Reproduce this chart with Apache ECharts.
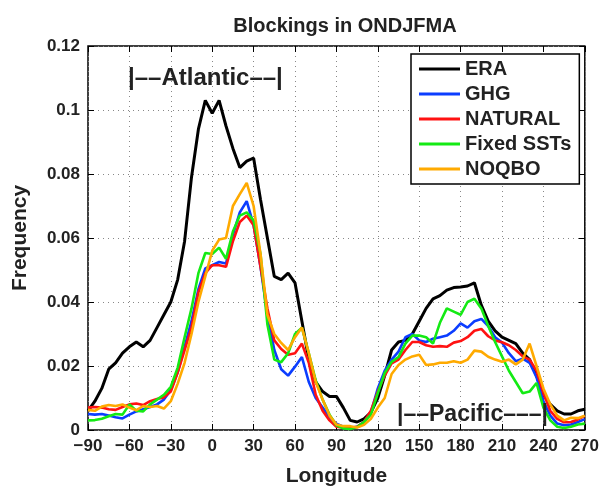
<!doctype html>
<html>
<head>
<meta charset="UTF-8">
<title>Blockings in ONDJFMA</title>
<script src="https://cdn.jsdelivr.net/npm/echarts@6/dist/echarts.min.js"></script>
<style>
html, body { margin: 0; padding: 0; background: #fff; }
#chart { width: 602px; height: 492px; }
</style>
</head>
<body>
<div id="chart"></div>
<script type="text/javascript">
// longitude, every 5 degrees from -90 to 270
var lons = [];
for (var l = -90; l <= 270; l += 5) lons.push(l);

var seriesNames = ['ERA', 'GHG', 'NATURAL', 'Fixed SSTs', 'NOQBO'];
var seriesColors = ['#000000', '#0b3dff', '#ff1212', '#14ea14', '#ffaa00'];

var era = [0.006, 0.009, 0.013, 0.019, 0.021, 0.024, 0.026, 0.0275, 0.026, 0.028,
  0.032, 0.036, 0.040, 0.047, 0.059, 0.079, 0.094, 0.103, 0.099, 0.103,
  0.095, 0.088, 0.082, 0.084, 0.085, 0.072, 0.060, 0.048, 0.047, 0.049,
  0.046, 0.034, 0.022, 0.015, 0.012, 0.0105, 0.0105, 0.007, 0.003, 0.0025,
  0.0035, 0.0055, 0.010, 0.017, 0.025, 0.0275, 0.028, 0.030, 0.034, 0.038,
  0.041, 0.042, 0.0437, 0.0445, 0.0447, 0.045, 0.046, 0.039, 0.034, 0.031,
  0.029, 0.028, 0.027, 0.024, 0.022, 0.017, 0.011, 0.008, 0.006, 0.005,
  0.005, 0.006, 0.0065];

var ghg = [0.005, 0.0048, 0.005, 0.0045, 0.004, 0.0036, 0.0048, 0.0058, 0.0065, 0.0072,
  0.008, 0.0095, 0.0125, 0.018, 0.026, 0.034, 0.044, 0.0505, 0.0515, 0.0525,
  0.052, 0.061, 0.068, 0.0715, 0.064, 0.051, 0.036, 0.025, 0.019, 0.017,
  0.0198, 0.0228, 0.015, 0.010, 0.007, 0.004, 0.002, 0.001, 0.0006, 0.001,
  0.0025, 0.0055, 0.013, 0.0185, 0.022, 0.0245, 0.029, 0.030, 0.028, 0.0275,
  0.0285, 0.029, 0.0295, 0.031, 0.0333, 0.032, 0.034, 0.0347, 0.0325, 0.029,
  0.0273, 0.024, 0.0215, 0.0223, 0.021, 0.0165, 0.009, 0.0045, 0.002, 0.0015,
  0.0017, 0.0025, 0.0034];

var natural = [0.007, 0.0072, 0.007, 0.0065, 0.0063, 0.0072, 0.008, 0.0083, 0.0078, 0.009,
  0.0097, 0.0102, 0.012, 0.018, 0.025, 0.032, 0.043, 0.049, 0.0515, 0.0515,
  0.051, 0.059, 0.065, 0.067, 0.064, 0.051, 0.038, 0.028, 0.0253, 0.0235,
  0.024, 0.027, 0.021, 0.011, 0.006, 0.003, 0.001, 0.0007, 0.0007, 0.001,
  0.0025, 0.006, 0.012, 0.017, 0.0208, 0.022, 0.025, 0.0275, 0.0275, 0.0265,
  0.026, 0.0262, 0.026, 0.0273, 0.0278, 0.029, 0.031, 0.0316, 0.0293, 0.028,
  0.0274, 0.0265, 0.025, 0.023, 0.022, 0.0185, 0.0115, 0.006, 0.0035, 0.0024,
  0.0025, 0.0033, 0.0044];

var fixedSst = [0.003, 0.0031, 0.0035, 0.0043, 0.005, 0.0048, 0.008, 0.006, 0.0058, 0.008,
  0.0095, 0.011, 0.0135, 0.0195, 0.029, 0.038, 0.049, 0.0553, 0.055, 0.057,
  0.0535, 0.062, 0.067, 0.068, 0.0655, 0.055, 0.033, 0.022, 0.0212, 0.024,
  0.030, 0.032, 0.024, 0.0155, 0.0095, 0.0048, 0.0015, 0.0005, 0.0003, 0.0009,
  0.0025, 0.0048, 0.0115, 0.0178, 0.0213, 0.0228, 0.027, 0.0295, 0.0295, 0.029,
  0.027, 0.0335, 0.038, 0.037, 0.036, 0.040, 0.041, 0.038, 0.0325, 0.0275,
  0.023, 0.0185, 0.015, 0.0115, 0.012, 0.0147, 0.007, 0.003, 0.001, 0.0006,
  0.001, 0.0017, 0.002];

var noqbo = [0.0063, 0.006, 0.0073, 0.0078, 0.0075, 0.008, 0.007, 0.0062, 0.0075, 0.0072,
  0.0075, 0.0067, 0.009, 0.0145, 0.021, 0.030, 0.040, 0.048, 0.056, 0.0595,
  0.060, 0.070, 0.0737, 0.0772, 0.070, 0.055, 0.036, 0.030, 0.0272, 0.025,
  0.029, 0.032, 0.024, 0.015, 0.0095, 0.0045, 0.0017, 0.0012, 0.0012, 0.0008,
  0.0016, 0.0035, 0.007, 0.010, 0.0175, 0.0203, 0.022, 0.023, 0.0235, 0.0203,
  0.0205, 0.021, 0.021, 0.0215, 0.021, 0.022, 0.0248, 0.0245, 0.0229, 0.022,
  0.0213, 0.022, 0.0205, 0.022, 0.027, 0.020, 0.013, 0.008, 0.0045, 0.003,
  0.0038, 0.0037, 0.0045];

var allValues = [era, ghg, natural, fixedSst, noqbo];

var fontFam = '"Liberation Sans", Arial, Helvetica, sans-serif';

function pairUp(vals) {
  var out = [];
  for (var i = 0; i < lons.length; i++) out.push([lons[i], vals[i]]);
  return out;
}

var series = [];
for (var i = 0; i < seriesNames.length; i++) {
  series.push({
    name: seriesNames[i],
    type: 'line',
    data: pairUp(allValues[i]),
    showSymbol: false,
    symbol: 'none',
    lineStyle: { color: seriesColors[i], width: i == 0 ? 3 : 2.6 },
    itemStyle: { color: seriesColors[i] },
    z: 2 + i
  });
}

// inside ticks on all four sides, like a boxed plot
var tickStyle = { show: true, inside: true, length: 6, lineStyle: { color: '#000', width: 1 } };
var gridDots = { show: true, lineStyle: { color: '#888', type: [1, 4], width: 1 } };

var chart = echarts.init(document.getElementById('chart'));
var option = {
  animation: false,
  backgroundColor: '#fff',
  title: {
    text: 'Blockings in ONDJFMA',
    left: 340, top: 11, textAlign: 'center',
    textStyle: { fontFamily: fontFam, fontWeight: 'bold', fontSize: 20, color: '#222' }
  },
  grid: {
    left: 88, right: 15, top: 46, bottom: 56,
    show: true, borderColor: '#000', borderWidth: 1.5, backgroundColor: 'transparent'
  },
  legend: {
    orient: 'vertical',
    left: 411, top: 54,
    padding: [5, 8, 5, 8],
    itemGap: 5,
    itemWidth: 41, itemHeight: 3,
    icon: 'rect',
    backgroundColor: '#fff',
    borderColor: '#000', borderWidth: 1.5,
    textStyle: { fontFamily: fontFam, fontWeight: 'bold', fontSize: 20, color: '#222' },
    data: seriesNames
  },
  xAxis: [{
    type: 'value', min: -90, max: 270, interval: 30,
    name: 'Longitude', nameLocation: 'middle', nameGap: 36,
    nameTextStyle: { fontFamily: fontFam, fontWeight: 'bold', fontSize: 21, color: '#222' },
    axisLine: { show: false, onZero: false },
    axisTick: tickStyle,
    axisLabel: {
      fontFamily: fontFam, fontWeight: 'bold', fontSize: 17, color: '#222', margin: 8,
      formatter: function (v) { return String(v).replace('-', '\u2212'); }
    },
    splitLine: gridDots
  }, {
    type: 'value', min: -90, max: 270, interval: 30, position: 'top',
    axisLine: { show: false, onZero: false },
    axisTick: tickStyle,
    axisLabel: { show: false },
    splitLine: { show: false }
  }],
  yAxis: [{
    type: 'value', min: 0, max: 0.12, interval: 0.02,
    name: 'Frequency', nameLocation: 'middle', nameGap: 57,
    nameTextStyle: { fontFamily: fontFam, fontWeight: 'bold', fontSize: 21, color: '#222' },
    axisLine: { show: false, onZero: false },
    axisTick: tickStyle,
    axisLabel: { fontFamily: fontFam, fontWeight: 'bold', fontSize: 17, color: '#222', margin: 8 },
    splitLine: gridDots
  }, {
    type: 'value', min: 0, max: 0.12, interval: 0.02, position: 'right',
    axisLine: { show: false, onZero: false },
    axisTick: tickStyle,
    axisLabel: { show: false },
    splitLine: { show: false }
  }],
  graphic: [
    { type: 'text', left: 128, top: 66, z: 10,
      style: { text: '|\u2013\u2013Atlantic\u2013\u2013|', fontFamily: fontFam, fontWeight: 'bold', fontSize: 24, fill: '#222' } },
    { type: 'text', left: 397, top: 403, z: 10,
      style: { text: '|\u2013\u2013Pacific\u2013\u2013\u2013|', fontFamily: fontFam, fontWeight: 'bold', fontSize: 23, fill: '#222' } }
  ],
  series: series
};
chart.setOption(option);
</script>
</body>
</html>
